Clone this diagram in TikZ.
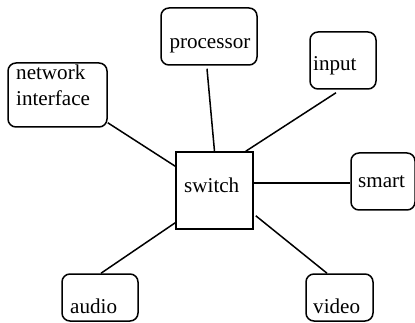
\documentclass[tikz,border=0pt]{standalone}
\usepackage{fontspec}
\setmainfont{Liberation Serif}
\begin{document}
\begin{tikzpicture}[x=1pt,y=-1pt,
  unit/.style={draw, line width=1.5pt, rounded corners=8pt, inner sep=0pt},
  hub/.style={draw, line width=1.5pt, inner sep=0pt, minimum width=77pt, minimum height=77pt},
  lbl/.style={inner sep=0pt, anchor=base west, font=\fontsize{21.1}{26}\selectfont},
  wire/.style={line width=1.5pt}]
\useasboundingbox (0,0) rectangle (415,323);

% central switch
\node[hub] (sw) at (214.5,190.5) {};
\node[lbl] (swt) at (184,192.3) {switch};

% peripheral units
\node[unit, minimum width=96pt, minimum height=57pt] (proc) at (209,36.5) {};
\node[lbl] (proct) at (169.3,49) {processor};

\node[unit, minimum width=66pt, minimum height=57pt] (inp) at (343,60.5) {};
\node[lbl] (inpt) at (313,71) {input};

\node[unit, minimum width=99pt, minimum height=64pt] (net) at (57.5,95) {};
\node[lbl, align=left, anchor=north west] (nett) at (16,64.5) {network\\interface};

\node[unit, minimum width=64pt, minimum height=57pt] (smart) at (383,181.5) {};
\node[lbl] (smartt) at (358,188) {smart};

\node[unit, minimum width=76pt, minimum height=47pt] (aud) at (100,297.5) {};
\node[lbl] (audt) at (70,313) {audio};

\node[unit, minimum width=67pt, minimum height=47pt] (vid) at (339.5,297.5) {};
\node[lbl] (vidt) at (313,313) {video};

% connections to the switch
\draw[wire] ([shift={(-2,3)}]proc.south) -- (sw.north);
\draw[wire] ([shift={(-7,3)}]inp.south) -- ([shift={(-8,0)}]sw.north east);
\draw[wire] ([shift={(0,-5)}]net.south east) -- ([shift={(0,15)}]sw.north west);
\draw[wire] ([shift={(-1,-7.5)}]sw.east) -- ([shift={(0,1.5)}]smart.west);
\draw[wire] ([shift={(0,-7)}]sw.south west) -- ([shift={(1,0)}]aud.north);
\draw[wire] ([shift={(2,-14)}]sw.south east) -- ([shift={(-12.5,0)}]vid.north);
\end{tikzpicture}
\end{document}
